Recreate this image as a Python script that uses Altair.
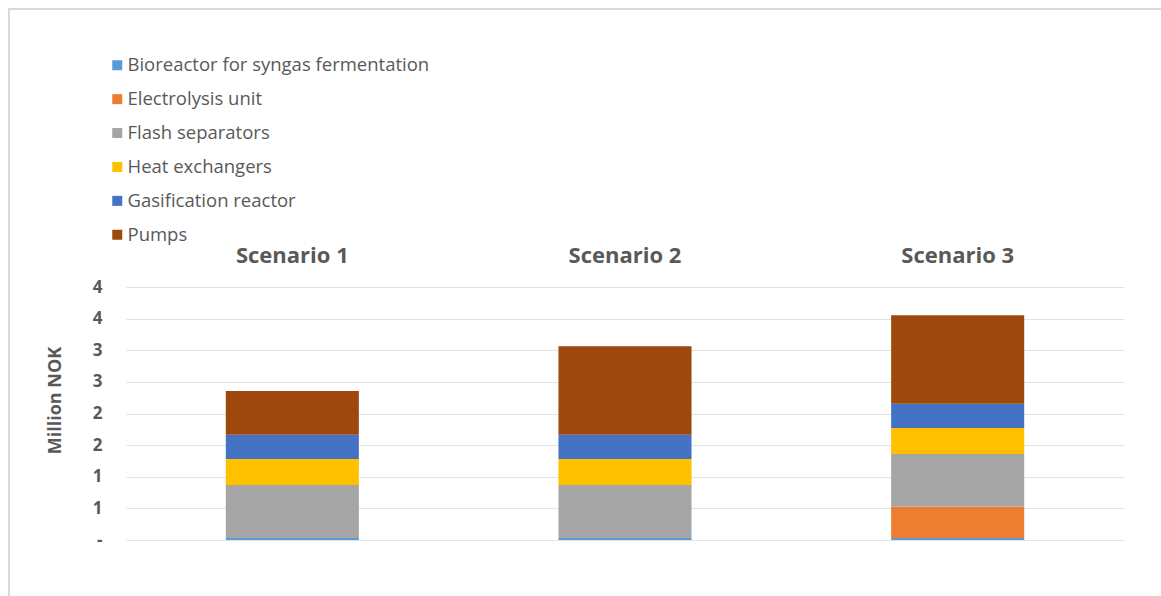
import altair as alt
import pandas as pd

scenarios = ["Scenario 1", "Scenario 2", "Scenario 3"]
components = [
    "Bioreactor for syngas fermentation",
    "Electrolysis unit",
    "Flash separators",
    "Heat exchangers",
    "Gasification reactor",
    "Pumps",
]
colors = ["#5B9BD5", "#ED7D31", "#A5A5A5", "#FFC000", "#4472C4", "#9E480E"]

bioreactor = [0.03, 0.03, 0.03]
electrolysis = [0.0, 0.0, 0.50]
flash = [0.84, 0.84, 0.83]
heat_exchangers = [0.41, 0.41, 0.41]
gasification = [0.385, 0.385, 0.385]
pumps = [0.69, 1.40, 1.40]

series = [bioreactor, electrolysis, flash, heat_exchangers, gasification, pumps]
y_ticks = [0, 0.5, 1, 1.5, 2, 2.5, 3, 3.5, 4]

rows = []
for ci, (comp, vals) in enumerate(zip(components, series)):
    for s, v in zip(scenarios, vals):
        rows.append({"Scenario": s, "Component": comp, "Value": v, "order": ci})
df = pd.DataFrame(rows)

TXT = "#595959"
FONT = "Open Sans"

bars = alt.Chart(df).mark_bar().encode(
    x=alt.X(
        "Scenario:N",
        sort=scenarios,
        scale=alt.Scale(paddingInner=0.6, paddingOuter=0.3),
        axis=alt.Axis(
            orient="top", title=None, labelAngle=0, domain=False, ticks=False,
            labelFont=FONT, labelFontSize=22, labelFontWeight="bold",
            labelColor=TXT, labelPadding=32, labelBaseline="middle",
        ),
    ),
    y=alt.Y(
        "Value:Q",
        stack="zero",
        scale=alt.Scale(domain=[0, 4], nice=False),
        axis=alt.Axis(
            values=y_ticks, title="Million NOK",
            labelExpr="datum.value == 0 ? '-' : format(datum.value, '.0f')",
            domain=False, ticks=False, grid=True, gridColor="#e3e3e3",
            labelFont=FONT, labelFontSize=17, labelFontWeight="bold",
            labelColor=TXT, labelPadding=24,
            titleFont=FONT, titleFontSize=18, titleFontWeight="bold",
            titleColor=TXT, titleAngle=-90, titleX=-71, titleY=113,
            titleAlign="center", titleBaseline="middle",
        ),
    ),
    color=alt.Color(
        "Component:N",
        scale=alt.Scale(domain=components, range=colors),
        legend=alt.Legend(
            title=None, orient="none", legendX=-18, legendY=-231,
            symbolType="square", symbolSize=100, symbolStrokeWidth=0,
            labelFont=FONT, labelFontSize=18.5, labelColor=TXT,
            labelOffset=1, rowPadding=14.9, padding=0, labelLimit=600,
        ),
    ),
    order=alt.Order("order:Q", sort="ascending"),
)

frame_top = alt.Chart(df).mark_rule(color="#d9d9d9", strokeWidth=2).encode(
    x=alt.value(-118), x2=alt.value(1035), y=alt.value(-278)
)
frame_left = alt.Chart(df).mark_rule(color="#d9d9d9", strokeWidth=2).encode(
    x=alt.value(-117), y=alt.value(-279), y2=alt.value(309)
)

chart = alt.layer(frame_top, frame_left, bars).properties(
    width=998,
    height=253,
    autosize=alt.AutoSizeParams(type="none"),
    padding={"left": 126, "top": 287, "right": 37, "bottom": 56},
).configure_view(stroke=None)

chart.save("out.html", embed_options={"renderer": "svg", "actions": False})
